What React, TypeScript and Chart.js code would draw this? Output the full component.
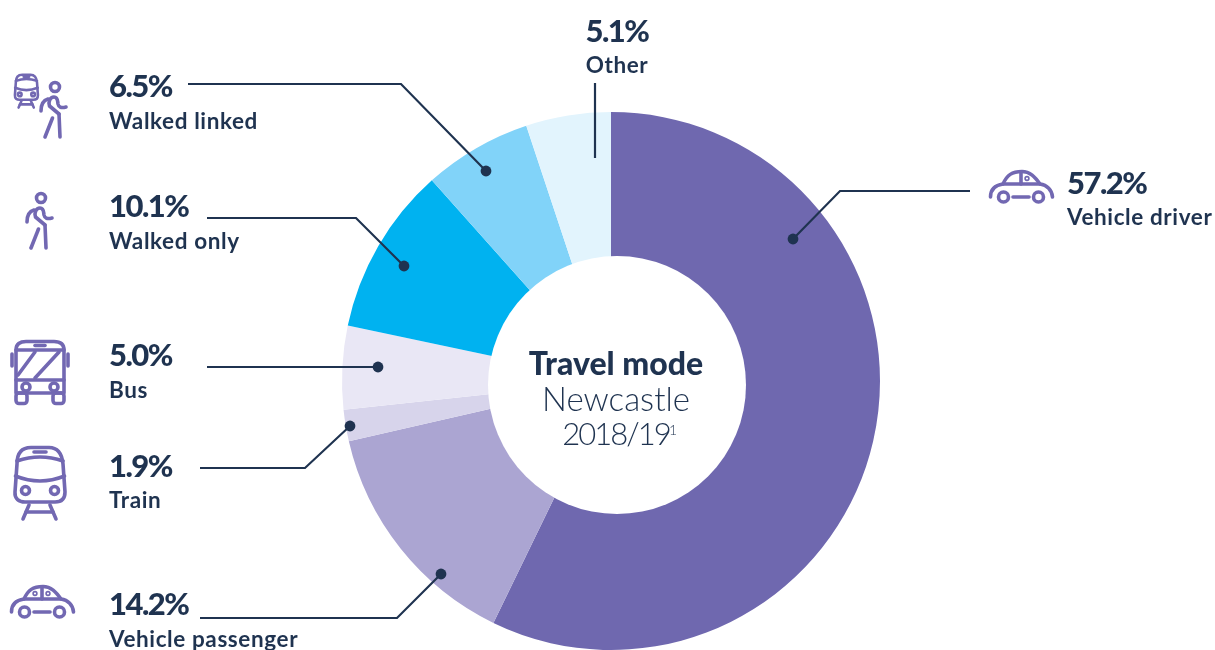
import React, { useEffect, useRef } from "react";
import { Chart, registerables } from "chart.js";

Chart.register(...registerables);

const categories = ["Vehicle driver", "Vehicle passenger", "Train", "Bus", "Walked only", "Walked linked", "Other"];
const shares = [57.2, 14.2, 1.9, 5.0, 10.1, 6.5, 5.1];
const sliceColours = ["#6F68AF", "#ABA5D2", "#D7D4EB", "#E9E7F5", "#00B2F0", "#81D3F9", "#E2F4FD"];

const titleLines = ["Travel mode", "Newcastle", "2018/19"];
const footnoteMark = "1";

const INK = "#1F3350";
const ICON = "#7268B2";
const FONT = "Lato, 'Noto Sans', sans-serif";

// Label placement for each category, in the same order as the data.
const labelSpots = [
  { x: 1067, pct: 194, name: 225, align: "left" },
  { x: 109, pct: 615, name: 647, align: "left" },
  { x: 109, pct: 477, name: 508, align: "left" },
  { x: 109, pct: 366, name: 398, align: "left" },
  { x: 109, pct: 217, name: 249, align: "left" },
  { x: 109, pct: 97, name: 129, align: "left" },
  { x: 617, pct: 42, name: 73, align: "center" },
];

// Leader lines run from the label to the slice; the last vertex carries the dot.
const leaders = [
  { path: [[970, 191], [840, 191], [793, 239]], dot: true },
  { path: [[200, 618], [397, 618], [441, 574]], dot: true },
  { path: [[200, 468], [305, 468], [350, 426]], dot: true },
  { path: [[207, 367], [378, 367]], dot: true },
  { path: [[207, 218], [356, 218], [404, 266]], dot: true },
  { path: [[188, 84], [401, 84], [486, 171]], dot: true },
  { path: [[595, 83], [595, 158]], dot: false },
];

type Ctx = CanvasRenderingContext2D;

function ring(c: Ctx, x: number, y: number, r: number) {
  c.beginPath();
  c.arc(x, y, r, 0, Math.PI * 2);
  c.stroke();
}

function poly(c: Ctx, pts: number[][]) {
  c.beginPath();
  pts.forEach(([x, y], i) => (i ? c.lineTo(x, y) : c.moveTo(x, y)));
  c.stroke();
}

function carIcon(c: Ctx, x: number, y: number, passenger: boolean) {
  c.save();
  c.translate(x, y);
  c.lineWidth = 3.6;
  c.beginPath();
  c.moveTo(1.5, 27);
  c.bezierCurveTo(1.5, 19, 7, 15, 14, 14);
  c.bezierCurveTo(18, 5, 23, 1.5, 33, 1.5);
  c.bezierCurveTo(41, 1.5, 46, 7, 51, 14);
  c.bezierCurveTo(58, 15, 63, 20, 63.5, 27);
  c.stroke();
  poly(c, [[14, 14], [51, 14]]);
  poly(c, [[32, 2], [32, 14]]);
  ring(c, 14.5, 27, 5);
  ring(c, 49.5, 27, 5);
  poly(c, [[24, 27], [40, 27]]);
  c.lineWidth = 1.6;
  ring(c, 38, 8.5, 1.9);
  if (passenger) ring(c, 25, 8.5, 1.9);
  c.restore();
}

function walkerIcon(c: Ctx, x: number, y: number) {
  c.save();
  c.translate(x, y);
  c.lineWidth = 3.6;
  ring(c, 0, 0, 4.5);
  c.beginPath();
  c.moveTo(4, 27);
  c.lineTo(-5.5, 19);
  c.bezierCurveTo(-7, 15, -5, 10, -1, 10);
  c.bezierCurveTo(3, 10, 2.5, 14, 3, 17);
  c.quadraticCurveTo(4, 22, 11, 20);
  c.stroke();
  c.beginPath();
  c.moveTo(-14, 24);
  c.quadraticCurveTo(-14, 14, -7, 12);
  c.stroke();
  poly(c, [[4, 27], [5, 50]]);
  poly(c, [[-2.5, 31], [-10, 50]]);
  c.restore();
}

function trainIcon(c: Ctx, x: number, y: number, s: number) {
  c.save();
  c.translate(x, y);
  c.scale(s, s);
  c.lineWidth = s < 1 ? 5.6 : 3.6;
  c.beginPath();
  c.moveTo(4, 18);
  c.bezierCurveTo(4, 6, 10, 1.5, 18, 1.5);
  c.lineTo(36, 1.5);
  c.bezierCurveTo(45, 1.5, 49, 8, 50, 18);
  c.lineTo(52, 46);
  c.bezierCurveTo(52, 54, 47, 56, 42, 56);
  c.lineTo(12, 56);
  c.bezierCurveTo(6, 56, 1.5, 53, 2, 46);
  c.closePath();
  c.stroke();
  c.beginPath();
  c.moveTo(4, 15);
  c.quadraticCurveTo(27, 7, 50, 15);
  c.stroke();
  c.beginPath();
  c.moveTo(2.5, 30);
  c.quadraticCurveTo(27, 40, 51.5, 30);
  c.stroke();
  poly(c, [[21, 6], [33, 6]]);
  ring(c, 12.5, 44.5, 4);
  ring(c, 41.5, 44.5, 4);
  poly(c, [[16, 59], [10, 73]]);
  poly(c, [[37, 59], [43, 73]]);
  poly(c, [[13, 66], [40, 66]]);
  c.restore();
}

function busIcon(c: Ctx, x: number, y: number) {
  c.save();
  c.translate(x, y);
  c.lineWidth = 3.6;
  c.beginPath();
  c.moveTo(6, 10);
  c.bezierCurveTo(6, 4, 10, 1.5, 16, 1.5);
  c.lineTo(44, 1.5);
  c.bezierCurveTo(50, 1.5, 54, 4, 54, 10);
  c.lineTo(54, 53);
  c.lineTo(6, 53);
  c.closePath();
  c.stroke();
  poly(c, [[6, 10], [54, 10]]);
  poly(c, [[6, 40], [54, 40]]);
  poly(c, [[25, 5.5], [35, 5.5]]);
  poly(c, [[8, 35], [25, 12]]);
  poly(c, [[25, 38], [49, 12]]);
  ring(c, 16, 47, 4);
  ring(c, 44, 47, 4);
  c.beginPath();
  c.roundRect(6, 53, 11, 10.5, 3);
  c.roundRect(43, 53, 11, 10.5, 3);
  c.stroke();
  poly(c, [[2, 14], [2, 26]]);
  poly(c, [[58, 14], [58, 26]]);
  c.restore();
}

const decorations = {
  id: "decorations",
  afterDatasetsDraw(chart: Chart) {
    const c = chart.ctx as any;
    const arc = chart.getDatasetMeta(0).data[0] as any;

    // The white centre sits slightly off the pie's own centre.
    c.save();
    c.fillStyle = "#FFFFFF";
    c.beginPath();
    c.arc(arc.x + 6, arc.y + 4, 129, 0, Math.PI * 2);
    c.fill();
    c.restore();

    // Leader lines
    c.save();
    c.strokeStyle = INK;
    c.fillStyle = INK;
    c.lineWidth = 2.2;
    c.lineJoin = "miter";
    leaders.forEach(({ path, dot }) => {
      poly(c, path);
      if (dot) {
        const [dx, dy] = path[path.length - 1];
        c.beginPath();
        c.arc(dx, dy, 5.4, 0, Math.PI * 2);
        c.fill();
      }
    });
    c.restore();

    // Value and category labels
    c.save();
    c.fillStyle = INK;
    c.textBaseline = "alphabetic";
    categories.forEach((name, i) => {
      const spot = labelSpots[i];
      c.textAlign = spot.align as CanvasTextAlign;
      c.letterSpacing = "-1.5px";
      c.font = `900 31px ${FONT}`;
      c.fillText(`${shares[i].toFixed(1)}%`, spot.x, spot.pct);
      c.letterSpacing = "0.6px";
      c.font = `700 22.5px ${FONT}`;
      c.fillText(name, spot.x, spot.name);
    });
    c.textAlign = "center";
    c.letterSpacing = "0px";
    c.font = `900 32px ${FONT}`;
    c.fillText(titleLines[0], 616, 375);
    c.font = `300 33px ${FONT}`;
    c.fillText(titleLines[1], 616, 411);
    c.letterSpacing = "-2px";
    c.font = `300 31px ${FONT}`;
    c.fillText(titleLines[2], 616, 445);
    c.letterSpacing = "0px";
    c.textAlign = "left";
    c.font = `300 14px ${FONT}`;
    c.fillText(footnoteMark, 669, 435);
    c.restore();

    // Pictograms beside the labels
    c.save();
    c.strokeStyle = ICON;
    c.lineCap = "round";
    c.lineJoin = "round";
    carIcon(c, 989, 170, false);
    carIcon(c, 10, 585, true);
    trainIcon(c, 13, 446, 1);
    busIcon(c, 10, 340);
    walkerIcon(c, 41, 198);
    walkerIcon(c, 55, 87);
    trainIcon(c, 14, 74, 0.46);
    c.restore();
  },
};

export default function App() {
  const canvasRef = useRef<HTMLCanvasElement>(null);

  useEffect(() => {
    const chart = new Chart(canvasRef.current!, {
      type: "doughnut",
      data: {
        labels: categories,
        datasets: [
          {
            data: shares,
            backgroundColor: sliceColours,
            borderWidth: 0,
            hoverOffset: 0,
          },
        ],
      },
      options: {
        responsive: false,
        animation: false,
        cutout: 100,
        rotation: 0,
        layout: { padding: { left: 7, top: 112, right: 0, bottom: 0 } },
        plugins: { legend: { display: false }, tooltip: { enabled: false } },
      },
      plugins: [decorations],
    });
    return () => chart.destroy();
  }, []);

  return (
    <div style={{ position: "absolute", left: 0, top: 0, width: 1215, height: 650, overflow: "hidden", background: "#fff" }}>
      <canvas ref={canvasRef} width={1215} height={650} style={{ display: "block" }} />
    </div>
  );
}
